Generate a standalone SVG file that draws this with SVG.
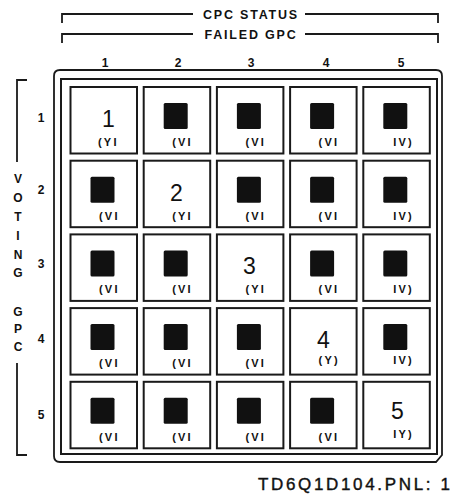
<svg xmlns="http://www.w3.org/2000/svg" width="452" height="495" viewBox="0 0 452 495">
<style>
.ln{fill:none;stroke:#1a1a1a;stroke-width:1.8}
.cell{fill:#fff;stroke:#1a1a1a;stroke-width:2}
.sq{fill:#111}
.lab{font-family:"Liberation Sans",Arial,sans-serif;font-weight:bold;font-size:11px;fill:#111;letter-spacing:2.2px}
.big{font-family:"Liberation Sans",Arial,sans-serif;font-size:23px;fill:#111}
.hd{font-family:"Liberation Sans",Arial,sans-serif;font-weight:bold;font-size:12.5px;fill:#111;letter-spacing:1.8px;text-anchor:middle}
.num{font-family:"Liberation Sans",Arial,sans-serif;font-weight:bold;font-size:12px;fill:#111;text-anchor:middle}
.ft{font-family:"Liberation Sans",Arial,sans-serif;font-size:17px;fill:#111;stroke:#111;stroke-width:0.4}
</style>
<rect width="452" height="495" fill="#fff"/>
<g id="header">
<path class="ln" d="M62,23 V14 H193 M305,14 H438 V23"/>
<text class="hd" x="251" y="19">CPC STATUS</text>
<path class="ln" d="M62,43 V34 H193 M305,34 H438 V43"/>
<text class="hd" x="251" y="38.5">FAILED GPC</text>
<text class="num" x="105" y="67">1</text>
<text class="num" x="178" y="67">2</text>
<text class="num" x="251" y="67">3</text>
<text class="num" x="326" y="67">4</text>
<text class="num" x="401" y="67">5</text>
</g>
<g id="side">
<path class="ln" d="M27,80 H17 V162 M17,363 V455 H27"/>
<text class="num" x="18" y="183">V</text>
<text class="num" x="18" y="202">O</text>
<text class="num" x="18" y="221">T</text>
<text class="num" x="18" y="240">I</text>
<text class="num" x="18" y="259">N</text>
<text class="num" x="18" y="277">G</text>
<text class="num" x="18" y="316">G</text>
<text class="num" x="18" y="333">P</text>
<text class="num" x="18" y="351">C</text>
<text class="num" x="41" y="122">1</text>
<text class="num" x="41" y="194">2</text>
<text class="num" x="41" y="268">3</text>
<text class="num" x="41" y="343">4</text>
<text class="num" x="41" y="419">5</text>
</g>
<g id="frame">
<path class="ln" d="M60,70 H436 Q442,70 442,76 V455 L436,462 H60 Q54,462 54,456 V76 Q54,70 60,70 Z"/>
<rect x="61" y="79" width="376" height="375" fill="none" stroke="#1a1a1a" stroke-width="2"/>
</g>
<g id="r1">
<g id="c11"><rect class="cell" x="70.5" y="87" width="66.5" height="66.5"/><text class="big" x="102" y="127">1</text><text class="lab" x="98" y="146">(YI</text></g>
<g id="c12"><rect class="cell" x="143.7" y="87" width="66.5" height="66.5"/><rect class="sq" x="163.7" y="103" width="24" height="26" rx="1.5"/><text class="lab" x="172.2" y="146">(VI</text></g>
<g id="c13"><rect class="cell" x="216.9" y="87" width="66.5" height="66.5"/><rect class="sq" x="236.9" y="103" width="24" height="26" rx="1.5"/><text class="lab" x="245.4" y="146">(VI</text></g>
<g id="c14"><rect class="cell" x="290.1" y="87" width="66.5" height="66.5"/><rect class="sq" x="310.1" y="103" width="24" height="26" rx="1.5"/><text class="lab" x="318.6" y="146">(VI</text></g>
<g id="c15"><rect class="cell" x="363.3" y="87" width="66.5" height="66.5"/><rect class="sq" x="383.3" y="103" width="24" height="26" rx="1.5"/><text class="lab" x="393.3" y="146">IV)</text></g>
</g>
<g id="r2">
<g id="c21"><rect class="cell" x="70.5" y="160.7" width="66.5" height="66.5"/><rect class="sq" x="90.5" y="176.7" width="24" height="26" rx="1.5"/><text class="lab" x="99" y="219.7">(VI</text></g>
<g id="c22"><rect class="cell" x="143.7" y="160.7" width="66.5" height="66.5"/><text class="big" x="170" y="200.7">2</text><text class="lab" x="172.2" y="219.7">(YI</text></g>
<g id="c23"><rect class="cell" x="216.9" y="160.7" width="66.5" height="66.5"/><rect class="sq" x="236.9" y="176.7" width="24" height="26" rx="1.5"/><text class="lab" x="245.4" y="219.7">(VI</text></g>
<g id="c24"><rect class="cell" x="290.1" y="160.7" width="66.5" height="66.5"/><rect class="sq" x="310.1" y="176.7" width="24" height="26" rx="1.5"/><text class="lab" x="318.6" y="219.7">(VI</text></g>
<g id="c25"><rect class="cell" x="363.3" y="160.7" width="66.5" height="66.5"/><rect class="sq" x="383.3" y="176.7" width="24" height="26" rx="1.5"/><text class="lab" x="393.3" y="219.7">IV)</text></g>
</g>
<g id="r3">
<g id="c31"><rect class="cell" x="70.5" y="234.4" width="66.5" height="66.5"/><rect class="sq" x="90.5" y="250.4" width="24" height="26" rx="1.5"/><text class="lab" x="99" y="293.4">(VI</text></g>
<g id="c32"><rect class="cell" x="143.7" y="234.4" width="66.5" height="66.5"/><rect class="sq" x="163.7" y="250.4" width="24" height="26" rx="1.5"/><text class="lab" x="172.2" y="293.4">(VI</text></g>
<g id="c33"><rect class="cell" x="216.9" y="234.4" width="66.5" height="66.5"/><text class="big" x="243" y="274.4">3</text><text class="lab" x="245.4" y="293.4">(YI</text></g>
<g id="c34"><rect class="cell" x="290.1" y="234.4" width="66.5" height="66.5"/><rect class="sq" x="310.1" y="250.4" width="24" height="26" rx="1.5"/><text class="lab" x="318.6" y="293.4">(VI</text></g>
<g id="c35"><rect class="cell" x="363.3" y="234.4" width="66.5" height="66.5"/><rect class="sq" x="383.3" y="250.4" width="24" height="26" rx="1.5"/><text class="lab" x="393.3" y="293.4">IV)</text></g>
</g>
<g id="r4">
<g id="c41"><rect class="cell" x="70.5" y="308.1" width="66.5" height="66.5"/><rect class="sq" x="90.5" y="324.1" width="24" height="26" rx="1.5"/><text class="lab" x="99" y="367.1">(VI</text></g>
<g id="c42"><rect class="cell" x="143.7" y="308.1" width="66.5" height="66.5"/><rect class="sq" x="163.7" y="324.1" width="24" height="26" rx="1.5"/><text class="lab" x="172.2" y="367.1">(VI</text></g>
<g id="c43"><rect class="cell" x="216.9" y="308.1" width="66.5" height="66.5"/><rect class="sq" x="236.9" y="324.1" width="24" height="26" rx="1.5"/><text class="lab" x="245.4" y="367.1">(VI</text></g>
<g id="c44"><rect class="cell" x="290.1" y="308.1" width="66.5" height="66.5"/><text class="big" x="317" y="348.1">4</text><text class="lab" x="318.6" y="364.1">(Y)</text></g>
<g id="c45"><rect class="cell" x="363.3" y="308.1" width="66.5" height="66.5"/><rect class="sq" x="383.3" y="324.1" width="24" height="26" rx="1.5"/><text class="lab" x="393.3" y="364.1">IV)</text></g>
</g>
<g id="r5">
<g id="c51"><rect class="cell" x="70.5" y="381.8" width="66.5" height="66.5"/><rect class="sq" x="90.5" y="397.8" width="24" height="26" rx="1.5"/><text class="lab" x="99" y="440.8">(VI</text></g>
<g id="c52"><rect class="cell" x="143.7" y="381.8" width="66.5" height="66.5"/><rect class="sq" x="163.7" y="397.8" width="24" height="26" rx="1.5"/><text class="lab" x="172.2" y="440.8">(VI</text></g>
<g id="c53"><rect class="cell" x="216.9" y="381.8" width="66.5" height="66.5"/><rect class="sq" x="236.9" y="397.8" width="24" height="26" rx="1.5"/><text class="lab" x="245.4" y="440.8">(VI</text></g>
<g id="c54"><rect class="cell" x="290.1" y="381.8" width="66.5" height="66.5"/><rect class="sq" x="310.1" y="397.8" width="24" height="26" rx="1.5"/><text class="lab" x="318.6" y="440.8">(VI</text></g>
<g id="c55"><rect class="cell" x="363.3" y="381.8" width="66.5" height="66.5"/><text class="big" x="391" y="419">5</text><text class="lab" x="393.3" y="438">IY)</text></g>
</g>
<text class="ft" x="258" y="490" textLength="192">TD6Q1D104.PNL: 1</text>
</svg>
